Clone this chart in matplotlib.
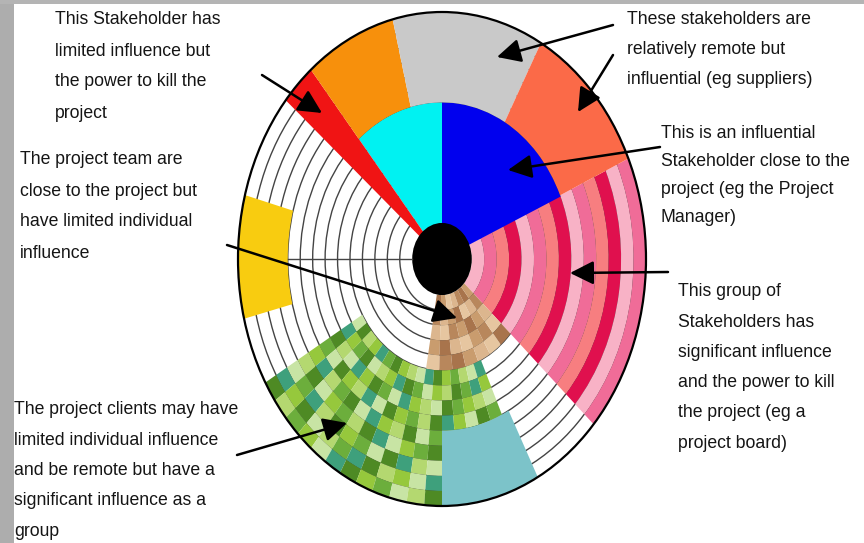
import numpy as np
import matplotlib
matplotlib.use('Agg')
import matplotlib.pyplot as plt
from matplotlib import font_manager
from matplotlib.patches import Wedge, Circle
from matplotlib.transforms import Affine2D

# stakeholder circle, unit radius, angles in degrees ccw from east
core_radius = 0.146
ring_edges = np.linspace(core_radius, 1.0, 15)   # 14 bands

# solid stakeholder sectors
solid_theta1 = [23.5, 90, 130, 104, 61, 24, 165, 270]
solid_theta2 = [90, 130, 140, 130, 104, 61, 194, 298]
solid_rin = [0.0, 0.0, 0.0, 0.634, 0.634, 0.634, 0.756, 0.695]
solid_rout = [0.634, 0.634, 1.0, 1.0, 1.0, 1.0, 1.0, 1.0]
solid_colors = ['#0000ee', '#00f2f2', '#f01414', '#f7900c', '#c9c9c9',
                '#fb6a48', '#f8cc10', '#7cc3c9']

# project board: concentric bands
board_theta = (-42, 24)
board_colors = ['#f8b2c6', '#f06c98', '#f77e80', '#e0104e']

# project team: small mosaic next to the core
team_theta = (260, 318)
team_cells = ["2031420",
              "4102314",
              "1340201",
              "0213043",
              "3420132"]
team_colors = ['#c99c6e', '#dcb68e', '#a8744c', '#e6c6a0', '#b8875c']

# project clients: big mosaic
client_theta = (210, 295)
client_cells = ["20514301524013524",
                "41302514032150341",
                "05241032415203152",
                "32015420135041203",
                "14530241502314025",
                "50213504213052341",
                "23450132045213504",
                "41025340512430215",
                "05312401325041532"]
client_colors = ['#4e8a24', '#96c83c', '#c8e4a4', '#6cae3c', '#3ea07c', '#b4d870']

labels = [
    ["This Stakeholder has", "limited influence but", "the power to kill the", "project"],
    ["These stakeholders are", "relatively remote but", "influential (eg suppliers)"],
    ["This is an influential", "Stakeholder close to the", "project (eg the Project", "Manager)"],
    ["The project team are", "close to the project but", "have limited individual", "influence"],
    ["This group of", "Stakeholders has", "significant influence", "and the power to kill",
     "the project (eg a", "project board)"],
    ["The project clients may have", "limited individual influence", "and be remote but have a",
     "significant influence as a", "group"],
]
label_x = [55, 627, 661, 20, 678, 14]
label_y = [20, 20, 133, 160, 292, 410]
label_step = [31, 30, 28.3, 31, 30.2, 30.3]

arrow_tail = [(262, 75), (613, 25), (613, 55), (660, 147), (668, 272), (227, 245), (237, 455)]
arrow_tip = [(322, 113), (497, 57), (578, 112), (508, 170), (570, 273), (457, 318), (347, 423)]

# narrow face if we have it, else a smaller regular one
names = {f.name for f in font_manager.fontManager.ttflist}
if 'Liberation Sans Narrow' in names:
    plt.rcParams['font.family'] = ['Liberation Sans Narrow', 'DejaVu Sans']
    label_size = 14.8
else:
    plt.rcParams['font.family'] = ['Liberation Sans', 'DejaVu Sans']
    label_size = 12.7

fig = plt.figure(figsize=(8.64, 5.43), dpi=100)
ax = fig.add_axes([0, 0, 1, 1])
ax.set_xlim(0, 864)
ax.set_ylim(543, 0)
ax.axis('off')

# page frame
ax.axvspan(0, 14, color='#adadad', lw=0)
ax.axhspan(0, 4, color='#b4b4b4', lw=0)

cx, cy, rx, ry = 442, 259, 204, 247
tr = Affine2D().scale(rx, -ry).translate(cx, cy) + ax.transData

# white disc with ring lines
ax.add_patch(Circle((0, 0), 1.0, transform=tr, fc='white', ec='none'))
for r in ring_edges[1:-1]:
    ax.add_patch(Circle((0, 0), r, transform=tr, fc='none', ec='#444444', lw=1.0))
ax.plot([-ring_edges[10], -core_radius], [0, 0], color='#444444', lw=1.0, transform=tr)

# board bands
for i in range(len(ring_edges) - 1):
    ax.add_patch(Wedge((0, 0), ring_edges[i + 1], board_theta[0], board_theta[1],
                       width=ring_edges[i + 1] - ring_edges[i], transform=tr,
                       fc=board_colors[i % 4], ec='none'))

# team mosaic
t_edges = np.linspace(team_theta[0], team_theta[1], len(team_cells[0]) + 1)
for i, row in enumerate(team_cells):
    for j, c in enumerate(row):
        ax.add_patch(Wedge((0, 0), ring_edges[i + 1], t_edges[j], t_edges[j + 1],
                           width=ring_edges[i + 1] - ring_edges[i], transform=tr,
                           fc=team_colors[int(c)], ec='none'))

# client mosaic
c_edges = np.linspace(client_theta[0], client_theta[1], len(client_cells[0]) + 1)
for i, row in enumerate(client_cells):
    k = i + 5
    for j, c in enumerate(row):
        ax.add_patch(Wedge((0, 0), ring_edges[k + 1], c_edges[j], c_edges[j + 1],
                           width=ring_edges[k + 1] - ring_edges[k], transform=tr,
                           fc=client_colors[int(c)], ec='none'))

# solid sectors
for t1, t2, r0, r1, col in zip(solid_theta1, solid_theta2, solid_rin, solid_rout, solid_colors):
    ax.add_patch(Wedge((0, 0), r1, t1, t2, width=r1 - r0, transform=tr, fc=col, ec='none'))

ax.add_patch(Circle((0, 0), core_radius, transform=tr, fc='black', ec='none'))
ax.add_patch(Circle((0, 0), 1.0, transform=tr, fc='none', ec='black', lw=1.6))

# callouts
for x0, y0, step, lines in zip(label_x, label_y, label_step, labels):
    for n, line in enumerate(lines):
        ax.text(x0, y0 + n * step, line, fontsize=label_size, color='#151515',
                ha='left', va='center')

for tail, tip in zip(arrow_tail, arrow_tip):
    ax.annotate('', xy=tip, xytext=tail,
                arrowprops=dict(arrowstyle='-|>,head_length=0.9,head_width=0.45', color='black',
                                lw=1.8, mutation_scale=16, shrinkA=0, shrinkB=0))

fig.savefig('out.png', dpi=100)
